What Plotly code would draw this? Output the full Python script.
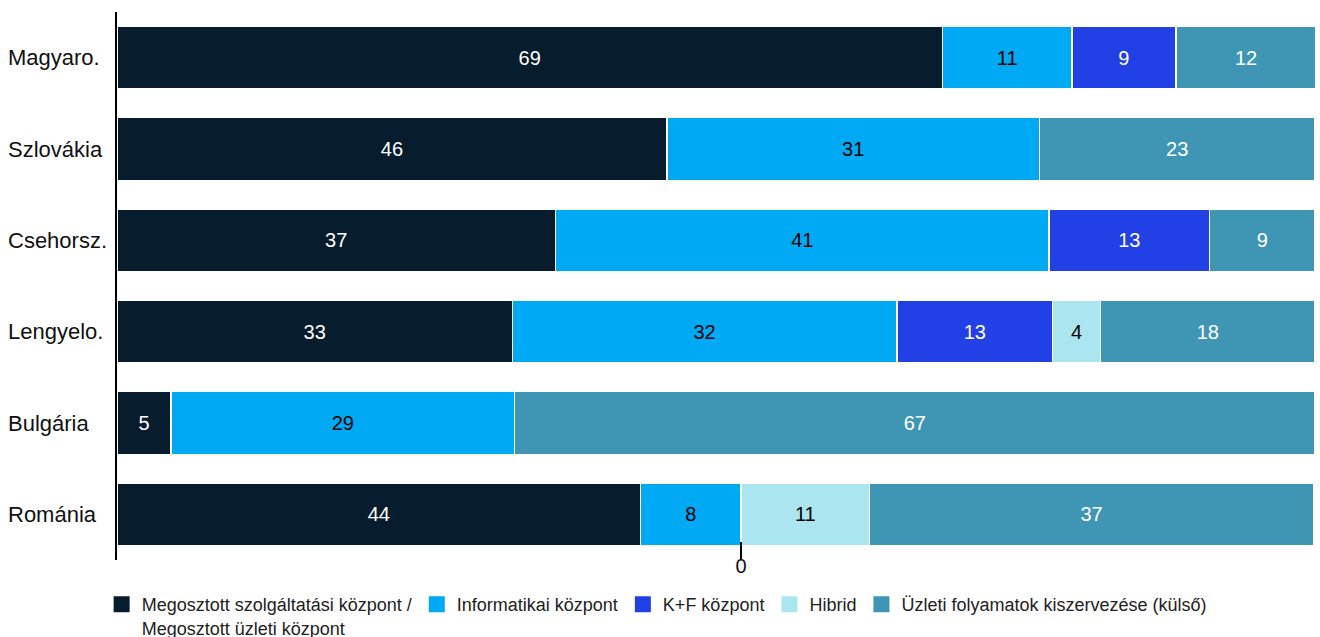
import plotly.graph_objects as go

countries = ["Magyaro.", "Szlovákia", "Csehorsz.", "Lengyelo.", "Bulgária", "Románia"]

series_names = [
    "Megosztott szolgáltatási központ /<br>Megosztott üzleti központ",
    "Informatikai központ",
    "K+F központ",
    "Hibrid",
    "Üzleti folyamatok kiszervezése (külső)",
]

# widths as measured (percent) and printed labels
ssc_vals = [68.9, 45.9, 36.6, 33.0, 4.5, 43.7]
it_vals = [10.8, 31.1, 41.2, 32.1, 28.7, 8.4]
rd_vals = [8.7, None, 13.4, 13.0, None, None]
hyb_vals = [None, None, None, 4.0, None, 10.7]
bpo_vals = [11.7, 23.0, 8.8, 17.9, 66.8, 37.1]

ssc_lbl = [69, 46, 37, 33, 5, 44]
it_lbl = [11, 31, 41, 32, 29, 8]
rd_lbl = [9, None, 13, 13, None, None]
hyb_lbl = [None, None, None, 4, None, 11]
bpo_lbl = [12, 23, 9, 18, 67, 37]

colors = ["#071d2d", "#00a9f4", "#2140e6", "#abe5f0", "#3e96b4"]
text_colors = ["white", "black", "white", "black", "white"]

zero_tick_pos = [52.1]
zero_tick_text = ["0"]

FONT = "Liberation Sans"

fig = go.Figure()
for name, vals, lbls, col, tcol in zip(
    series_names,
    [ssc_vals, it_vals, rd_vals, hyb_vals, bpo_vals],
    [ssc_lbl, it_lbl, rd_lbl, hyb_lbl, bpo_lbl],
    colors,
    text_colors,
):
    fig.add_trace(
        go.Bar(
            name=name,
            y=countries,
            x=vals,
            orientation="h",
            marker=dict(color=col, line=dict(color="white", width=1.5)),
            text=["" if l is None else str(l) for l in lbls],
            textposition="inside",
            insidetextanchor="middle",
            textangle=0,
            constraintext="none",
            textfont=dict(color=tcol, size=20, family=FONT),
            hoverinfo="skip",
            showlegend=False,
        )
    )
    # legend entry with a larger square swatch
    fig.add_trace(
        go.Scatter(
            name=name,
            x=[None],
            y=[None],
            mode="markers",
            marker=dict(symbol="square", size=16, color=col),
            hoverinfo="skip",
            showlegend=True,
        )
    )

# left-aligned category labels
for c in countries:
    fig.add_annotation(
        x=-0.093,
        xref="paper",
        y=c,
        yref="y",
        text=c,
        showarrow=False,
        xanchor="left",
        yanchor="middle",
        font=dict(size=22, family=FONT, color="#111111"),
    )

fig.update_layout(
    barmode="stack",
    bargap=0.31,
    width=1320,
    height=646,
    margin=dict(l=117, r=5, t=12, b=86),
    paper_bgcolor="white",
    plot_bgcolor="white",
    font=dict(family=FONT, color="#111111"),
    showlegend=True,
    legend=dict(
        orientation="h",
        x=0.077,
        xanchor="left",
        xref="container",
        y=0,
        yref="container",
        yanchor="bottom",
        valign="top",
        font=dict(size=18, family=FONT, color="#222222"),
        traceorder="normal",
        itemwidth=30,
        tracegroupgap=0,
        entrywidth=0,
    ),
    xaxis=dict(
        range=[0, 100],
        showgrid=False,
        zeroline=False,
        showline=False,
        tickmode="array",
        tickvals=zero_tick_pos,
        ticktext=zero_tick_text,
        ticks="inside",
        ticklen=18,
        tickwidth=1.5,
        tickcolor="black",
        tickfont=dict(size=20, family=FONT, color="#111111"),
        ticklabelstandoff=-8,
        automargin=False,
        layer="above traces",
    ),
    yaxis=dict(
        autorange="reversed",
        showgrid=False,
        showline=True,
        linecolor="black",
        linewidth=2,
        ticks="",
        showticklabels=False,
        automargin=False,
    ),
)

fig.write_html(
    "out.html",
    config={"displayModeBar": False},
    post_script="document.body.style.margin='0';document.body.style.overflow='hidden';",
)
